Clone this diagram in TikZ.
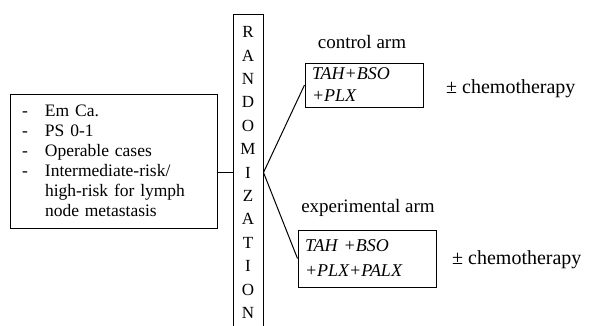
\documentclass[tikz,border=0pt]{standalone}
\usepackage{fontspec}
\setmainfont{Liberation Serif}
\usetikzlibrary{positioning}

\begin{document}
\begin{tikzpicture}[
    x=1pt, y=-1pt,
    box/.style={draw, line width=1pt, inner sep=0pt, align=left},
    arm/.style={font=\fontsize{19}{22}\selectfont},
    chemo/.style={font=\fontsize{20}{22}\selectfont, anchor=west, inner sep=0pt},
    link/.style={line width=1pt}
]
\useasboundingbox (0,0) rectangle (589,325);
\node[box, minimum width=207pt, minimum height=134pt, text width=183pt, font=\fontsize{17.5}{20}\selectfont] (crit) at (113.5,161)
  {\makebox[23pt][l]{-}Em Ca.\\
   \makebox[23pt][l]{-}PS 0-1\\
   \makebox[23pt][l]{-}Operable cases\\
   \makebox[23pt][l]{-}Intermediate-risk/\\
   \hspace*{23pt}high-risk for lymph\\
   \hspace*{23pt}node metastasis};
\node[box, align=center, minimum width=30pt, minimum height=317pt, font=\fontsize{17}{23.4}\selectfont] (rand) at (248,172.5)
  {R\\A\\N\\D\\O\\M\\I\\Z\\A\\T\\I\\O\\N};
\node[box, minimum width=118pt, minimum height=44pt, text width=104pt, font=\fontsize{18}{22}\selectfont\itshape] (ctrl) at (364,85)
  {TAH+BSO\\+PLX};
\node[box, minimum width=138pt, minimum height=57pt, text width=124pt, font=\fontsize{18}{25}\selectfont\itshape] (expt) at (367,258.5)
  {TAH +BSO\\+PLX+PALX};
\node[arm] (ctrllab) at (362,42) {control arm};
\node[arm] (exptlab) at (368,208) {experimental arm};
\node[chemo] (ctrlchemo) at (446,89) {± chemotherapy};
\node[chemo] (exptchemo) at (452,260) {± chemotherapy};
\draw[link] (crit.east |- rand.west) -- (rand.west);
\draw[link] (rand.east) -- (ctrl.west);
\draw[link] (rand.east) -- (expt.west);
\end{tikzpicture}
\end{document}
